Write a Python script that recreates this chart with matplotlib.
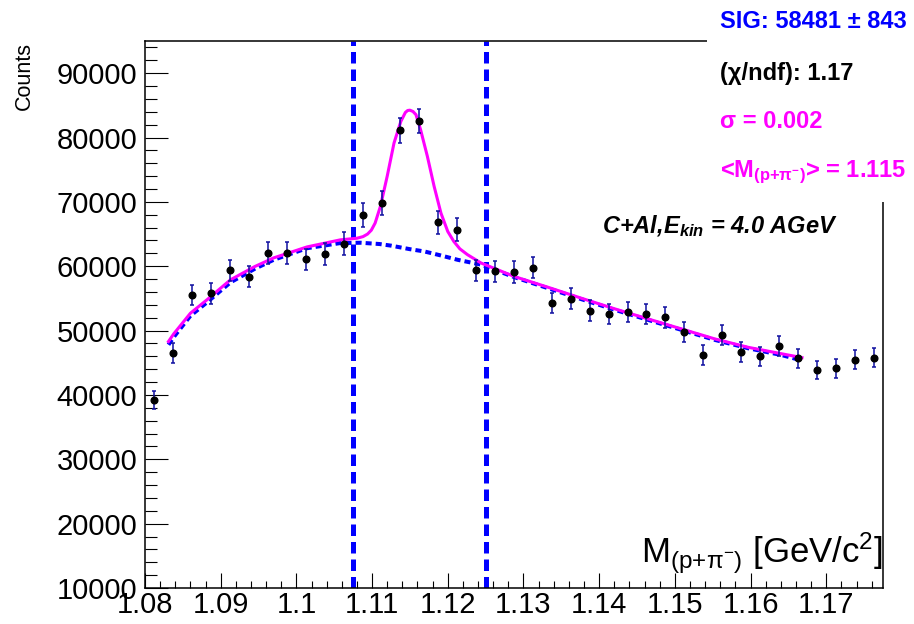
import matplotlib
matplotlib.use("Agg")
import matplotlib.pyplot as plt
from matplotlib.patches import Rectangle
from matplotlib.ticker import MultipleLocator, FuncFormatter

plt.rcParams['font.family'] = ['Liberation Sans', 'DejaVu Sans']
plt.rcParams['mathtext.fontset'] = 'custom'
plt.rcParams['mathtext.rm'] = 'Liberation Sans'
plt.rcParams['mathtext.it'] = 'Liberation Sans:italic'
plt.rcParams['mathtext.bf'] = 'Liberation Sans:bold'
plt.rcParams['mathtext.bfit'] = 'Liberation Sans:italic:bold'

# histogram bins (GeV/c^2), counts and errors
bin_x = [1.08125, 1.08375, 1.08625, 1.08875, 1.09125, 1.09375, 1.09625, 1.09875,
         1.10125, 1.10375, 1.10625, 1.10875, 1.11125, 1.11375, 1.11625, 1.11875,
         1.12125, 1.12375, 1.12625, 1.12875, 1.13125, 1.13375, 1.13625, 1.13875,
         1.14125, 1.14375, 1.14625, 1.14875, 1.15125, 1.15375, 1.15625, 1.15875,
         1.16125, 1.16375, 1.16625, 1.16875, 1.17125, 1.17375, 1.17625]
counts = [39200, 46500, 55500, 55800, 59350, 58400, 62000, 62100,
          61050, 61850, 63500, 67900, 69800, 81100, 82600, 66800,
          65700, 59350, 59200, 59100, 59800, 54300, 54950, 53100,
          52600, 52900, 52550, 52050, 49750, 46150, 49350, 46650,
          46000, 47550, 45700, 43900, 44150, 45500, 45800]
errors = [1450, 1500, 1600, 1600, 1650, 1650, 1700, 1700,
          1700, 1700, 1750, 1850, 1900, 2000, 1900, 1800,
          1750, 1650, 1650, 1650, 1650, 1600, 1600, 1600,
          1600, 1600, 1600, 1600, 1550, 1550, 1550, 1550,
          1500, 1550, 1500, 1450, 1450, 1500, 1500]

# total fit (signal + background)
fit_x = [1.0831, 1.0838, 1.0860, 1.0882, 1.0913, 1.0945, 1.0970, 1.1014, 1.1058,
         1.1080, 1.1088, 1.1094, 1.1099, 1.1104, 1.1111, 1.1120, 1.1129, 1.1138,
         1.1144, 1.1147, 1.1150, 1.1154, 1.1158, 1.1164, 1.1173, 1.1182, 1.1191,
         1.1200, 1.1208, 1.1216, 1.1226, 1.1244, 1.1288, 1.1332, 1.1376, 1.1420,
         1.1465, 1.1509, 1.1553, 1.1597, 1.1641, 1.1668]
fit_y = [48300, 49500, 52700, 54800, 57900, 59950, 61300, 63000, 64100,
         64350, 64600, 65000, 65600, 66700, 69300, 74000, 79150, 82500,
         83900, 84200, 84250, 84050, 83550, 81250, 77100, 72400, 68250,
         65400, 63850, 62700, 61800, 60500, 58400, 56750, 55050, 53400,
         51800, 50250, 48700, 47400, 46400, 45800]

# background only
bkg_x = [1.0831, 1.0838, 1.0860, 1.0882, 1.0913, 1.0945, 1.0970, 1.1014, 1.1058,
         1.1085, 1.1110, 1.1125, 1.1150, 1.1169, 1.1190, 1.1213, 1.1244, 1.1288,
         1.1332, 1.1376, 1.1420, 1.1465, 1.1509, 1.1553, 1.1597, 1.1641, 1.1663]
bkg_y = [47800, 49000, 52300, 54400, 57500, 59600, 61000, 62800, 63600,
         63650, 63450, 63200, 62650, 62300, 61700, 61000, 60250, 58300,
         56600, 54900, 53250, 51650, 50100, 48550, 47250, 46200, 45500]

# integration window
window = [1.1075, 1.125]

W, H = 914, 624
fig = plt.figure(figsize=(W / 100, H / 100), dpi=100)
ax = fig.add_axes([145 / W, 1 - 588 / H, (883 - 145) / W, (588 - 41) / H])

for xv in window:
    ax.axvline(xv, color='#0000ff', lw=3.6, linestyle=(0, (2.3, 1.2)), zorder=2)

ax.plot(bkg_x, bkg_y, color='#0000ff', lw=2.9, linestyle=(0, (1.5, 1.0)), zorder=3)
ax.plot(fit_x, fit_y, color='#ff00ff', lw=2.2, zorder=4)
ax.errorbar(bin_x, counts, yerr=errors, fmt='o', color='black', ms=4.8,
            ecolor='#1010a0', elinewidth=1.1, capsize=1.6, capthick=1.1, zorder=5)

ax.set_xlim(1.08, 1.1775)
ax.set_ylim(10000, 95000)
ax.xaxis.set_major_locator(MultipleLocator(0.01))
ax.xaxis.set_minor_locator(MultipleLocator(0.002))
ax.yaxis.set_major_locator(MultipleLocator(10000))
ax.yaxis.set_minor_locator(MultipleLocator(2000))
ax.xaxis.set_major_formatter(FuncFormatter(lambda v, p: '%g' % round(v, 3)))
ax.yaxis.set_major_formatter(FuncFormatter(lambda v, p: '%d' % v))
ax.tick_params(axis='both', which='both', direction='in', top=False, right=False,
               width=0.8, labelsize=21)
ax.tick_params(axis='y', which='major', length=16.5, pad=5.5)
ax.tick_params(axis='y', which='minor', length=8.6)
ax.tick_params(axis='x', which='major', length=10.8, pad=2)
ax.tick_params(axis='x', which='minor', length=5.4)
for s in ax.spines.values():
    s.set_linewidth(1.1)

# white box over the top right corner (stat box area)
fig.patches.append(Rectangle((707 / W, 1 - 202 / H), 1, 1, transform=fig.transFigure,
                             facecolor='white', edgecolor='none', zorder=1))

fig.text(24 / W, 1 - 42 / H, 'Counts', rotation=90, ha='center', va='top', fontsize=15.5)
fig.text(883 / W, 1 - 563 / H, r'M$_{\mathrm{(p{+}π^{-})}}$ [GeV/c$^{2}$]',
         ha='right', va='baseline', fontsize=25, zorder=3)

fig.text(720 / W, 1 - 28 / H, 'SIG: 58481 ± 843', color='#0000ff', fontsize=17,
         fontweight='bold', va='baseline', zorder=3)
fig.text(720 / W, 1 - 80 / H, '(χ/ndf): 1.17', color='black', fontsize=17,
         fontweight='bold', va='baseline', zorder=3)
fig.text(720 / W, 1 - 128 / H, 'σ = 0.002', color='#ff00ff', fontsize=17,
         fontweight='bold', va='baseline', zorder=3)
fig.text(720 / W, 1 - 177 / H, r'<M$_{\mathbf{(p{+}π^{-})}}$> = 1.115', color='#ff00ff',
         fontsize=17, fontweight='bold', va='baseline', zorder=3)
fig.text(602 / W, 1 - 233 / H, r'C+Al,E$_{\mathbfit{kin}}$ = 4.0 AGeV', color='black',
         fontsize=17, fontweight='bold', fontstyle='italic', va='baseline', zorder=3)

fig.savefig('out.png', dpi=100, facecolor='white')
